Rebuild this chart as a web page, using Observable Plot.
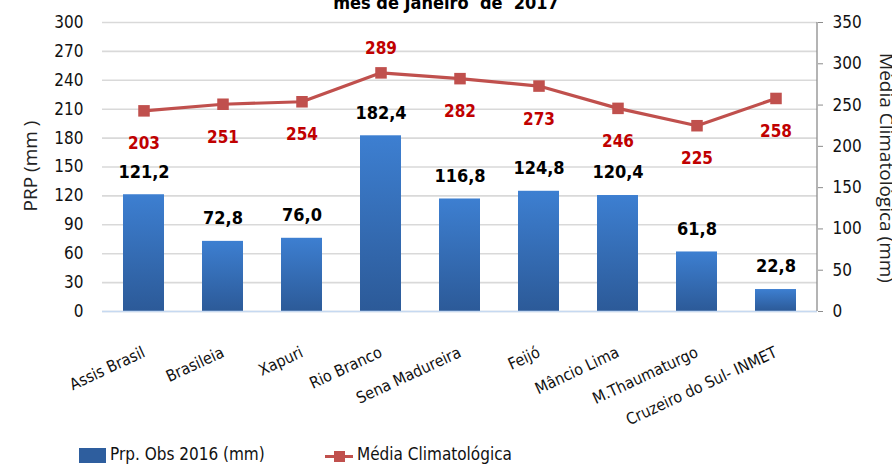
<!DOCTYPE html>
<html>
<head>
<meta charset="utf-8">
<script src="https://cdn.jsdelivr.net/npm/d3@7"></script>
<script src="https://cdn.jsdelivr.net/npm/@observablehq/plot@0.6"></script>
<style>
  body { margin: 0; background: #fff; width: 892px; height: 468px; overflow: hidden; position: relative; font-family: "DejaVu Sans Condensed", "Liberation Sans Narrow", "Roboto", sans-serif; }
  #chart { position: absolute; left: 0; top: 0; }
  .abs { position: absolute; white-space: nowrap; }
  #title { top: -8px; left: 0; width: 892px; text-align: center; font-weight: bold; font-size: 18px; }
  .ytitle { font-family: "Open Sans", "DejaVu Sans", sans-serif; font-size: 19px; color: #222; }
  .leg { font-size: 17px; color: #111; }
</style>
</head>
<body>
<div id="title" class="abs">mes de Janeiro&nbsp; de&nbsp; 2017</div>
<div id="chart"></div>
<div class="abs ytitle" style="left:30px; top:166px; transform: translate(-50%,-50%) rotate(-90deg);">PRP (mm )</div>
<div class="abs ytitle" style="left:887px; top:168px; transform: translate(-50%,-50%) rotate(90deg);">Média Climatológica (mm)</div>
<div class="abs" style="left:79px; top:448px; width:27px; height:15px; background:#2E5E9E;"></div>
<div class="abs leg" style="left:110px; top:444px;">Prp. Obs 2016 (mm)</div>
<div class="abs" style="left:325px; top:455px; width:28px; height:3px; background:#C0504D;"></div>
<div class="abs" style="left:334px; top:451px; width:11px; height:11px; background:#C0504D;"></div>
<div class="abs leg" style="left:357px; top:444px;">Média Climatológica</div>
<script>
const stations = ["Assis Brasil", "Brasileia", "Xapuri", "Rio Branco", "Sena Madureira", "Feijó", "Mâncio Lima", "M.Thaumaturgo", "Cruzeiro do Sul- INMET"];
const prpObs = [121.2, 72.8, 76.0, 182.4, 116.8, 124.8, 120.4, 61.8, 22.8];
const mediaClim = [243, 251, 254, 289, 282, 273, 246, 225, 258];
const mediaLabels = ["203", "251", "254", "289", "282", "273", "246", "225", "258"];
const leftTicks = d3.range(0, 301, 30);
const rightTicks = d3.range(0, 351, 50);

const k = 300 / 350; // right axis (0–350) mapped onto left axis (0–300)
const data = stations.map((s, i) => ({name: s, prp: prpObs[i], med: mediaClim[i] * k, medLabel: mediaLabels[i]}));

const font = '"DejaVu Sans Condensed", "Liberation Sans Narrow", "Roboto", sans-serif';

const defs = () => {
  const g = d3.create("svg:defs");
  const lg = g.append("linearGradient").attr("id", "barGrad").attr("x1", 0).attr("y1", 0).attr("x2", 0).attr("y2", 1);
  lg.append("stop").attr("offset", "0%").attr("stop-color", "#3D7FD1");
  lg.append("stop").attr("offset", "100%").attr("stop-color", "#2C5A98");
  return g.node();
};

const rightLine = (index, scales, values, dim) => {
  const x = dim.width - dim.marginRight;
  return d3.create("svg:line").attr("x1", x).attr("x2", x)
    .attr("y1", dim.marginTop).attr("y2", dim.height - dim.marginBottom)
    .attr("stroke", "#8c8c8c").attr("stroke-width", 1.3).node();
};

const chart = Plot.plot({
  width: 892,
  height: 440,
  marginTop: 22,
  marginBottom: 129,
  marginLeft: 102,
  marginRight: 75,
  style: {fontFamily: font, fontSize: "17px", color: "#111", background: "transparent"},
  x: {domain: stations, paddingInner: 0.48, paddingOuter: 0.24, label: null},
  y: {domain: [0, 300], label: null},
  marks: [
    defs,
    Plot.gridY(leftTicks, {stroke: "#d9d9d9", strokeOpacity: 1, strokeWidth: 1.6}),
    Plot.barY(data, {x: "name", y: "prp", fill: "url(#barGrad)"}),
    Plot.ruleY([0], {stroke: "#c6d9f1", strokeWidth: 1.5}),
    Plot.axisY(leftTicks, {anchor: "left", tickSize: 0, tickPadding: 19, fontSize: 17}),
    Plot.axisY(rightTicks.map(v => v * k), {anchor: "right", tickSize: 5, tickPadding: 10, stroke: "#8c8c8c", tickFormat: d => Math.round(d / k), fontSize: 17}),
    rightLine,
    Plot.axisX({tickSize: 0, tickRotate: -25, tickPadding: 40, fontSize: 16}),
    Plot.line(data, {x: "name", y: "med", stroke: "#C0504D", strokeWidth: 3.2}),
    Plot.dot(data, {x: "name", y: "med", symbol: "square", r: 6.5, fill: "#C0504D", stroke: "none"}),
    Plot.text(data, {x: "name", y: "prp", text: d => d3.format(".1f")(d.prp).replace(".", ","), dy: -23, fontWeight: "bold", fontSize: 18, fill: "#000"}),
    Plot.text(data.filter(d => d.name !== "Rio Branco"), {x: "name", y: "med", text: "medLabel", dy: 33, fontWeight: "bold", fontSize: 17, fill: "#C00000"}),
    Plot.text(data.filter(d => d.name === "Rio Branco"), {x: "name", y: "med", text: "medLabel", dy: -24, fontWeight: "bold", fontSize: 17, fill: "#C00000"})
  ]
});
document.getElementById("chart").append(chart);
</script>
</body>
</html>
